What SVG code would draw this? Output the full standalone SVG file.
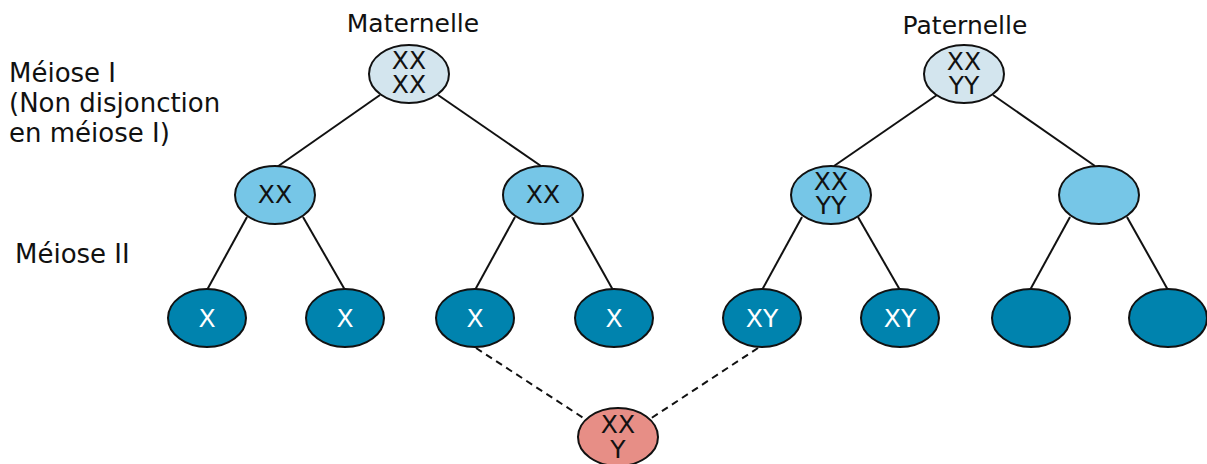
<svg xmlns="http://www.w3.org/2000/svg" width="1207" height="464" viewBox="0 0 1207 464">
<style>
.lbl{font-family:"DejaVu Sans",Verdana,sans-serif;font-size:25px;fill:#111}
.side{font-size:26px}
.t{font-family:"DejaVu Sans",Verdana,sans-serif;font-size:25px;text-anchor:middle;fill:#111}
.w{fill:#fff}
.n0{fill:#d3e5ee;stroke:#111;stroke-width:2}
.n1{fill:#76c6e7;stroke:#111;stroke-width:2}
.n2{fill:#0083ae;stroke:#111;stroke-width:2}
.n3{fill:#e78e86;stroke:#111;stroke-width:2}
.e{stroke:#111;stroke-width:2;fill:none}
.d{stroke:#111;stroke-width:2;fill:none;stroke-dasharray:7 5}
</style>
<rect width="1207" height="464" fill="#fff"/>
<g id="labels">
<text class="lbl" x="413" y="32" text-anchor="middle">Maternelle</text>
<text class="lbl" x="965" y="34" text-anchor="middle">Paternelle</text>
<text class="lbl side" x="9" y="82">Méiose I<tspan x="9" dy="30">(Non disjonction</tspan><tspan x="9" dy="30">en méiose I)</tspan></text>
<text class="lbl side" x="15" y="263">Méiose II</text>
</g>
<g id="connectors">
<line class="e" x1="380" y1="95" x2="277" y2="167"/>
<line class="e" x1="438" y1="95" x2="541" y2="166"/>
<line class="e" x1="937" y1="95" x2="834" y2="166"/>
<line class="e" x1="993" y1="95" x2="1095" y2="166"/>
<line class="e" x1="247" y1="217" x2="207" y2="290"/>
<line class="e" x1="303" y1="217" x2="345" y2="290"/>
<line class="e" x1="515" y1="217" x2="475" y2="290"/>
<line class="e" x1="572" y1="217" x2="613" y2="290"/>
<line class="e" x1="802" y1="217" x2="762" y2="290"/>
<line class="e" x1="858" y1="217" x2="900" y2="290"/>
<line class="e" x1="1070" y1="217" x2="1030" y2="290"/>
<line class="e" x1="1127" y1="217" x2="1168" y2="290"/>
<line class="d" x1="476" y1="348" x2="585" y2="419"/>
<line class="d" x1="758" y1="348" x2="650" y2="419"/>
</g>
<g id="mat"><ellipse class="n0" cx="409" cy="74" rx="40" ry="29"/><text class="t" x="409" y="69">XX<tspan x="409" dy="24">XX</tspan></text></g>
<g id="pat"><ellipse class="n0" cx="964" cy="74" rx="40" ry="29"/><text class="t" x="964" y="70">XX<tspan x="964" dy="24">YY</tspan></text></g>
<g id="m1"><ellipse class="n1" cx="275" cy="195" rx="40" ry="29"/><text class="t" x="275" y="203">XX</text></g>
<g id="m2"><ellipse class="n1" cx="543" cy="195" rx="40" ry="29"/><text class="t" x="543" y="203">XX</text></g>
<g id="p1"><ellipse class="n1" cx="831" cy="195" rx="40" ry="29"/><text class="t" x="831" y="190">XX<tspan x="831" dy="24">YY</tspan></text></g>
<g id="p2"><ellipse class="n1" cx="1099" cy="195" rx="40" ry="29"/></g>
<g id="g1"><ellipse class="n2" cx="207" cy="318" rx="39" ry="29"/><text class="t w" x="207" y="327">X</text></g>
<g id="g2"><ellipse class="n2" cx="345" cy="318" rx="39" ry="29"/><text class="t w" x="345" y="327">X</text></g>
<g id="g3"><ellipse class="n2" cx="475" cy="318" rx="39" ry="29"/><text class="t w" x="475" y="327">X</text></g>
<g id="g4"><ellipse class="n2" cx="614" cy="318" rx="39" ry="29"/><text class="t w" x="614" y="327">X</text></g>
<g id="g5"><ellipse class="n2" cx="762" cy="318" rx="39" ry="29"/><text class="t w" x="762" y="327">XY</text></g>
<g id="g6"><ellipse class="n2" cx="900" cy="318" rx="39" ry="29"/><text class="t w" x="900" y="327">XY</text></g>
<g id="g7"><ellipse class="n2" cx="1031" cy="318" rx="39" ry="29"/></g>
<g id="g8"><ellipse class="n2" cx="1168" cy="318" rx="39" ry="29"/></g>
<g id="zyg"><ellipse class="n3" cx="618" cy="437" rx="40" ry="29"/><text class="t" x="618" y="433">XX<tspan x="618" dy="25">Y</tspan></text></g>
</svg>
